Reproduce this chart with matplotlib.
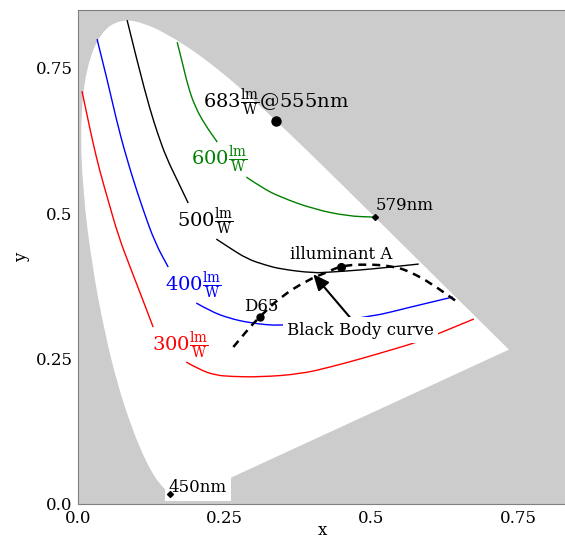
import numpy as np
import matplotlib.pyplot as plt
from matplotlib.path import Path
from matplotlib.patches import PathPatch

plt.rcParams['font.family'] = 'DejaVu Serif'
plt.rcParams['mathtext.fontset'] = 'dejavuserif'

# CIE 1931 spectral locus, 380..700 nm in 5 nm steps
locus_x = [0.1741, 0.1740, 0.1738, 0.1736, 0.1733, 0.1730, 0.1726, 0.1721, 0.1714, 0.1703,
           0.1689, 0.1669, 0.1644, 0.1611, 0.1566, 0.1510, 0.1440, 0.1355, 0.1241, 0.1096,
           0.0913, 0.0687, 0.0454, 0.0235, 0.0082, 0.0039, 0.0139, 0.0389, 0.0743, 0.1142,
           0.1547, 0.1929, 0.2296, 0.2658, 0.3016, 0.3373, 0.3731, 0.4087, 0.4441, 0.4788,
           0.5125, 0.5448, 0.5752, 0.6029, 0.6270, 0.6482, 0.6658, 0.6801, 0.6915, 0.7006,
           0.7079, 0.7140, 0.7190, 0.7230, 0.7260, 0.7283, 0.7300, 0.7311, 0.7320, 0.7327,
           0.7334, 0.7340, 0.7344, 0.7346, 0.7347]
locus_y = [0.0050, 0.0050, 0.0049, 0.0049, 0.0048, 0.0048, 0.0048, 0.0048, 0.0051, 0.0058,
           0.0069, 0.0086, 0.0109, 0.0138, 0.0177, 0.0227, 0.0297, 0.0399, 0.0578, 0.0868,
           0.1327, 0.2007, 0.2950, 0.4127, 0.5384, 0.6548, 0.7502, 0.8120, 0.8338, 0.8262,
           0.8059, 0.7816, 0.7543, 0.7243, 0.6923, 0.6589, 0.6245, 0.5896, 0.5547, 0.5202,
           0.4866, 0.4544, 0.4242, 0.3965, 0.3725, 0.3514, 0.3340, 0.3197, 0.3083, 0.2993,
           0.2920, 0.2859, 0.2809, 0.2770, 0.2740, 0.2717, 0.2700, 0.2689, 0.2680, 0.2673,
           0.2666, 0.2660, 0.2656, 0.2654, 0.2653]

# efficacy contours (segments split at label gaps)
c300_a_x = [0.0068, 0.0154, 0.0256, 0.0376, 0.0513, 0.0683, 0.0888, 0.1093, 0.1281]
c300_a_y = [0.7096, 0.6684, 0.6203, 0.5704, 0.5223, 0.4622, 0.4072, 0.3540, 0.3041]
c300_b_x = [0.1845, 0.2084, 0.2341, 0.2597, 0.3110, 0.3793, 0.4306, 0.4869, 0.5331, 0.5792, 0.6168, 0.6749]
c300_b_y = [0.2440, 0.2302, 0.2216, 0.2191, 0.2182, 0.2234, 0.2354, 0.2509, 0.2646, 0.2784, 0.2938, 0.3179]

c400_a_x = [0.0325, 0.0513, 0.0683, 0.0888, 0.1111, 0.1316, 0.1538]
c400_a_y = [0.7990, 0.7234, 0.6478, 0.5739, 0.5052, 0.4485, 0.4072]
c400_b_x = [0.2016, 0.2255, 0.2563, 0.2939, 0.3451, 0.4135, 0.4989, 0.5672, 0.6390]
c400_b_y = [0.3454, 0.3316, 0.3196, 0.3110, 0.3058, 0.3127, 0.3213, 0.3385, 0.3557]

c500_a_x = [0.0837, 0.1025, 0.1230, 0.1367, 0.1503, 0.1691, 0.1879]
c500_a_y = [0.8316, 0.7543, 0.6770, 0.6340, 0.5962, 0.5567, 0.5172]
c500_b_x = [0.2358, 0.2563, 0.2887, 0.3195, 0.3451, 0.4015, 0.4306, 0.4818, 0.5331, 0.5809]
c500_b_y = [0.4553, 0.4416, 0.4210, 0.4107, 0.4038, 0.3969, 0.3986, 0.4021, 0.4072, 0.4124]

c600_a_x = [0.1691, 0.1777, 0.1879, 0.1999, 0.2170, 0.2375]
c600_a_y = [0.7938, 0.7595, 0.7165, 0.6821, 0.6512, 0.6220]
c600_b_x = [0.2870, 0.3144, 0.3451, 0.4015, 0.4596, 0.5040]
c600_b_y = [0.5619, 0.5430, 0.5275, 0.5069, 0.4948, 0.4931]

# black body (Planckian) curve
bb_x = [0.2648, 0.2887, 0.3110, 0.3451, 0.3913, 0.4254, 0.4476, 0.4869, 0.5382, 0.5672, 0.6014, 0.6492]
bb_y = [0.2698, 0.2990, 0.3230, 0.3557, 0.3849, 0.3986, 0.4089, 0.4124, 0.4089, 0.3986, 0.3797, 0.3454]

pt_555 = (0.3373, 0.6589)
pt_579 = (0.5058, 0.4933)
pt_450 = (0.1566, 0.0177)
pt_d65 = (0.311, 0.322)
pt_a = (0.4476, 0.4074)


def smooth_path(xs, ys, closed=False):
  # quadratic bezier through the samples; closed -> straight purple line back
  p = np.column_stack([xs, ys])
  verts = [p[0]]
  codes = [Path.MOVETO]
  for i in range(1, len(p) - 1):
    verts += [p[i], (p[i] + p[i + 1]) / 2]
    codes += [Path.CURVE3, Path.CURVE3]
  verts.append(p[-1])
  codes.append(Path.LINETO)
  if closed:
    verts.append(p[0])
    codes.append(Path.CLOSEPOLY)
  return Path(verts, codes)


fig = plt.figure(figsize=(5.65, 5.4), dpi=100)
ax = fig.add_axes([78 / 565, 36 / 540, 488 / 565, 494 / 540])
ax.set_facecolor('#cccccc')
ax.add_patch(PathPatch(smooth_path(locus_x, locus_y, closed=True), facecolor='white',
                       edgecolor='none', zorder=1))

segs = [(c300_a_x, c300_a_y, 'red'), (c300_b_x, c300_b_y, 'red'),
        (c400_a_x, c400_a_y, 'blue'), (c400_b_x, c400_b_y, 'blue'),
        (c500_a_x, c500_a_y, 'black'), (c500_b_x, c500_b_y, 'black'),
        (c600_a_x, c600_a_y, 'green'), (c600_b_x, c600_b_y, 'green')]
for xs, ys, c in segs:
  ax.add_patch(PathPatch(smooth_path(xs, ys), fill=False, edgecolor=c, lw=1, zorder=2))

ax.add_patch(PathPatch(smooth_path(bb_x, bb_y), fill=False, edgecolor='black', lw=1.8,
                       ls=(0, (3.2, 2.4)), zorder=3))

frac = r'\frac{\mathrm{lm}}{\mathrm{W}}'
ax.text(0.174, 0.2715, '$300' + frac + '$', color='red', fontsize=14, ha='center', va='center')
ax.text(0.1965, 0.3746, '$400' + frac + '$', color='blue', fontsize=14, ha='center', va='center')
ax.text(0.217, 0.4845, '$500' + frac + '$', color='black', fontsize=14, ha='center', va='center')
ax.text(0.241, 0.592, '$600' + frac + '$', color='green', fontsize=14, ha='center', va='center')
ax.text(0.337, 0.690, '$683' + frac + '$@555nm', color='black', fontsize=14, ha='center', va='center')

ax.plot(*pt_555, 'o', color='black', ms=6.5, zorder=5)
ax.plot(*pt_a, 'o', color='black', ms=5.5, zorder=5)
ax.plot(*pt_d65, 'o', color='black', ms=5, zorder=5)
ax.plot(*pt_579, 'D', color='black', ms=3, zorder=5)
ax.plot(*pt_450, 'D', color='black', ms=3, zorder=5)

ax.text(0.507, 0.513, '579nm', fontsize=12, ha='left', va='center')
ax.text(0.313, 0.340, 'D65', fontsize=12, ha='center', va='center')
ax.text(0.448, 0.428, 'illuminant A', fontsize=12, ha='center', va='center')
ax.text(0.155, 0.0275, '450nm', fontsize=12, ha='left', va='center', zorder=4,
        bbox=dict(facecolor='white', edgecolor='none', pad=3))
ax.annotate('Black Body curve', xy=(0.401, 0.395), xytext=(0.482, 0.299),
            fontsize=12, ha='center', va='center', zorder=6,
            bbox=dict(facecolor='white', edgecolor='none', pad=3),
            arrowprops=dict(arrowstyle='-|>,head_length=0.8,head_width=0.35',
                            color='black', lw=1.5, shrinkA=0, shrinkB=0))

ax.set_xlim(0, 0.832)
ax.set_ylim(0, 0.849)
ax.set_xticks([0, 0.25, 0.5, 0.75])
ax.set_xticklabels(['0.0', '0.25', '0.5', '0.75'])
ax.set_yticks([0, 0.25, 0.5, 0.75])
ax.set_yticklabels(['0.0', '0.25', '0.5', '0.75'])
ax.tick_params(length=0, labelsize=12, pad=4)
for s in ax.spines.values():
  s.set_color('#808080')
ax.set_xlabel('x', fontsize=12, labelpad=-3)
ax.set_ylabel('y', fontsize=12)

fig.savefig('out.png', dpi=100)
